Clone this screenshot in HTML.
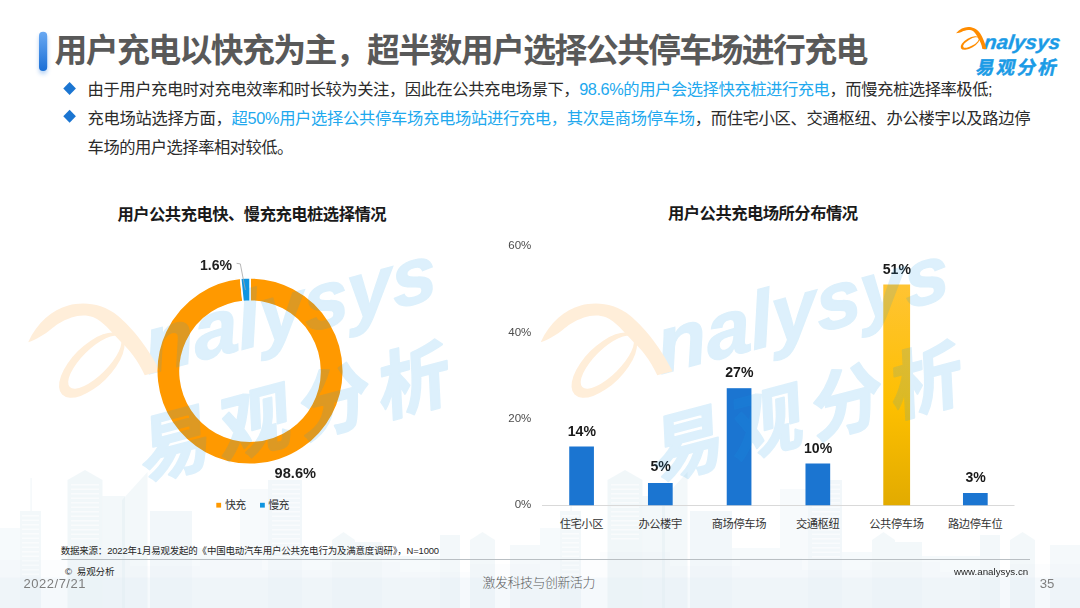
<!DOCTYPE html>
<html lang="zh-CN">
<head>
<meta charset="utf-8">
<title>用户充电以快充为主，超半数用户选择公共停车场进行充电</title>
<style>
html,body{margin:0;padding:0;background:#fff;}
body{width:1080px;height:608px;overflow:hidden;position:relative;font-family:"Liberation Sans",sans-serif;}
.slide{position:absolute;left:0;top:0;width:1080px;height:608px;overflow:hidden;background:#fff;}
svg.layer{position:absolute;left:0;top:0;width:1080px;height:608px;display:block;overflow:hidden;}
svg.layer text.run{font-family:"Liberation Sans","Noto Sans CJK SC",sans-serif;}
.t{position:absolute;white-space:nowrap;font-family:"Liberation Sans","Noto Sans CJK SC",sans-serif;font-weight:normal;margin:0;padding:0;}
.t.b{font-weight:bold;}
.t.sp5{letter-spacing:0.5px;}
.labels{position:absolute;left:0;top:0;width:1080px;height:608px;will-change:transform;}
.t.g{color:transparent;line-height:1.16;overflow:hidden;}
</style>
</head>
<body>
<div class="slide">
<svg class="layer" viewBox="0 0 1080 608" width="1080" height="608">
<defs>
<linearGradient id="gbar" x1="0" y1="0" x2="0" y2="1"><stop offset="0" stop-color="#6aa9f2"/><stop offset="1" stop-color="#1a6fd6"/></linearGradient>
<linearGradient id="ggold" x1="0" y1="0" x2="0" y2="1"><stop offset="0" stop-color="#ffc433"/><stop offset="0.55" stop-color="#fdbf00"/><stop offset="1" stop-color="#e2ab00"/></linearGradient>
<filter id="blur2" x="-100%" y="-20%" width="300%" height="140%"><feGaussianBlur stdDeviation="2"/></filter>
</defs>
<g id="skyline"><g id="tile"><polygon points="20,608 20,511 41,511 41,608" fill="#dbeaf1" opacity="0.32"/><rect x="30.6" y="478" width="0.9" height="33" fill="#dbeaf1" opacity="0.5"/><rect x="22" y="515" width="17" height="1.6" fill="#fff" opacity="0.55"/><rect x="22" y="519.5" width="17" height="1.6" fill="#fff" opacity="0.55"/><rect x="22" y="524" width="17" height="1.6" fill="#fff" opacity="0.55"/><rect x="22" y="528.5" width="17" height="1.6" fill="#fff" opacity="0.55"/><rect x="22" y="533" width="17" height="1.6" fill="#fff" opacity="0.55"/><rect x="22" y="537.5" width="17" height="1.6" fill="#fff" opacity="0.55"/><rect x="22" y="542" width="17" height="1.6" fill="#fff" opacity="0.55"/><rect x="22" y="546.5" width="17" height="1.6" fill="#fff" opacity="0.55"/><rect x="22" y="551" width="17" height="1.6" fill="#fff" opacity="0.55"/><rect x="22" y="555.5" width="17" height="1.6" fill="#fff" opacity="0.55"/><rect x="22" y="560" width="17" height="1.6" fill="#fff" opacity="0.55"/><rect x="22" y="564.5" width="17" height="1.6" fill="#fff" opacity="0.55"/><rect x="22" y="569" width="17" height="1.6" fill="#fff" opacity="0.55"/><rect x="22" y="573.5" width="17" height="1.6" fill="#fff" opacity="0.55"/><polygon points="67.5,608 67.5,480 85,470 102.5,480 102.5,608" fill="#dbeaf1" opacity="0.4"/><rect x="71" y="484" width="28" height="1.6" fill="#fff" opacity="0.55"/><rect x="71" y="488.5" width="28" height="1.6" fill="#fff" opacity="0.55"/><rect x="71" y="493" width="28" height="1.6" fill="#fff" opacity="0.55"/><rect x="71" y="497.5" width="28" height="1.6" fill="#fff" opacity="0.55"/><rect x="71" y="502" width="28" height="1.6" fill="#fff" opacity="0.55"/><rect x="71" y="506.5" width="28" height="1.6" fill="#fff" opacity="0.55"/><rect x="71" y="511" width="28" height="1.6" fill="#fff" opacity="0.55"/><rect x="71" y="515.5" width="28" height="1.6" fill="#fff" opacity="0.55"/><rect x="71" y="520" width="28" height="1.6" fill="#fff" opacity="0.55"/><rect x="71" y="524.5" width="28" height="1.6" fill="#fff" opacity="0.55"/><rect x="71" y="529" width="28" height="1.6" fill="#fff" opacity="0.55"/><rect x="71" y="533.5" width="28" height="1.6" fill="#fff" opacity="0.55"/><rect x="71" y="538" width="28" height="1.6" fill="#fff" opacity="0.55"/><polygon points="102.5,608 102.5,496 125,496 125,608" fill="#dbeaf1" opacity="0.32"/><polygon points="122,608 122,500 147.5,472 147.5,608" fill="#dbeaf1" opacity="0.32"/><polygon points="150,608 150,511 192,511 192,608" fill="#dbeaf1" opacity="0.36"/><polygon points="192,608 192,548 240,548 240,608" fill="#dbeaf1" opacity="0.24"/><polygon points="240,608 240,489 268,489 268,608" fill="#dbeaf1" opacity="0.22"/><polygon points="268,608 268,480 302,480 302,608" fill="#dbeaf1" opacity="0.36"/><rect x="272" y="484" width="28" height="1.6" fill="#fff" opacity="0.55"/><rect x="272" y="488.5" width="28" height="1.6" fill="#fff" opacity="0.55"/><rect x="272" y="493" width="28" height="1.6" fill="#fff" opacity="0.55"/><rect x="272" y="497.5" width="28" height="1.6" fill="#fff" opacity="0.55"/><rect x="272" y="502" width="28" height="1.6" fill="#fff" opacity="0.55"/><rect x="272" y="506.5" width="28" height="1.6" fill="#fff" opacity="0.55"/><rect x="272" y="511" width="28" height="1.6" fill="#fff" opacity="0.55"/><rect x="272" y="515.5" width="28" height="1.6" fill="#fff" opacity="0.55"/><rect x="272" y="520" width="28" height="1.6" fill="#fff" opacity="0.55"/><rect x="272" y="524.5" width="28" height="1.6" fill="#fff" opacity="0.55"/><rect x="272" y="529" width="28" height="1.6" fill="#fff" opacity="0.55"/><rect x="272" y="533.5" width="28" height="1.6" fill="#fff" opacity="0.55"/><rect x="272" y="538" width="28" height="1.6" fill="#fff" opacity="0.55"/><rect x="272" y="542.5" width="28" height="1.6" fill="#fff" opacity="0.55"/><rect x="272" y="547" width="28" height="1.6" fill="#fff" opacity="0.55"/><rect x="272" y="551.5" width="28" height="1.6" fill="#fff" opacity="0.55"/><rect x="272" y="556" width="28" height="1.6" fill="#fff" opacity="0.55"/><polygon points="302,608 302,552 332,552 332,608" fill="#dbeaf1" opacity="0.24"/><polygon points="332,608 332,540 343.5,532 355,540 355,608" fill="#dbeaf1" opacity="0.32"/><polygon points="355,608 355,542 382,542 382,608" fill="#dbeaf1" opacity="0.32"/><polygon points="382,608 382,556 440,556 440,608" fill="#dbeaf1" opacity="0.24"/><polygon points="440,608 440,535 460,535 460,608" fill="#dbeaf1" opacity="0.32"/><polygon points="470,608 470,540 482.5,532 495,540 495,608" fill="#dbeaf1" opacity="0.32"/><polygon points="510,608 510,545 540,545 540,608" fill="#dbeaf1" opacity="0.28"/><polygon points="0,608 0,528 20,528 20,608" fill="#dbeaf1" opacity="0.24"/><polygon points="0,608 0,560 60,560 60,608" fill="#e0ecf2" opacity="0.1"/><polygon points="60,608 60,552 130,552 130,608" fill="#e0ecf2" opacity="0.1"/><polygon points="130,608 130,566 200,566 200,608" fill="#e0ecf2" opacity="0.1"/><polygon points="200,608 200,558 262,558 262,608" fill="#e0ecf2" opacity="0.1"/><polygon points="262,608 262,570 330,570 330,608" fill="#e0ecf2" opacity="0.1"/><polygon points="330,608 330,562 400,562 400,608" fill="#e0ecf2" opacity="0.1"/><polygon points="400,608 400,572 470,572 470,608" fill="#e0ecf2" opacity="0.1"/><polygon points="470,608 470,564 540,564 540,608" fill="#e0ecf2" opacity="0.1"/></g><use href="#tile" x="540"/><rect x="0" y="577.5" width="1080" height="30.5" fill="#deedf3" opacity="0.2"/></g>
<rect x="39" y="35" width="8.2" height="39" rx="4.1" fill="#2f7fe0" opacity="0.35" filter="url(#blur2)"/>
<rect x="39" y="31.8" width="8.2" height="39.2" rx="4.1" fill="url(#gbar)"/>
<text class="run" x="54.6" y="62.39" font-size="32.865" font-weight="bold" fill="#595959" textLength="813.8" lengthAdjust="spacing">用户充电以快充为主，超半数用户选择公共停车场进行充电</text>
<path d="M69.6 82 l6.3 6.5 l-6.3 6.5 l-6.3 -6.5z" fill="#1b75d1"/>
<path d="M69.6 109.8 l6.3 6.5 l-6.3 6.5 l-6.3 -6.5z" fill="#1b75d1"/>
<text class="run" x="87.6" y="94.88" font-size="16.305" fill="#2b2b2b" textLength="905" lengthAdjust="spacing">由于用户充电时对充电效率和时长较为关注，因此在公共充电场景下，<tspan fill="#21a8ee">98.6%的用户会选择快充桩进行充电</tspan>，而慢充桩选择率极低;</text>
<text class="run" x="87.6" y="124.28" font-size="16.305" fill="#2b2b2b" textLength="943" lengthAdjust="spacing">充电场站选择方面，<tspan fill="#21a8ee">超50%用户选择公共停车场充电场站进行充电，其次是商场停车场</tspan>，而住宅小区、交通枢纽、办公楼宇以及路边停</text>
<text class="run" x="87.6" y="153.28" font-size="16.305" fill="#2b2b2b" textLength="205.8" lengthAdjust="spacing">车场的用户选择率相对较低。</text>
<text class="run" x="117.44" y="219.98" font-size="16.305" font-weight="bold" fill="#1a1a1a" textLength="269.1" lengthAdjust="spacing">用户公共充电快、慢充充电桩选择情况</text>
<text class="run" x="668.02" y="219.48" font-size="16.305" font-weight="bold" fill="#1a1a1a" textLength="190" lengthAdjust="spacing">用户公共充电场所分布情况</text>
<path d="M250.05 277.8 A93.3 93.3 0 1 1 240.69 278.27 L243.02 301.45 A70 70 0 1 0 250.05 301.1 Z" fill="#ff9900" stroke="#fff" stroke-width="1.6" stroke-linejoin="miter"/>
<path d="M240.69 278.27 A93.3 93.3 0 0 1 250.05 277.8 L250.05 301.1 A70 70 0 0 0 243.02 301.45 Z" fill="#0f95e0" stroke="#fff" stroke-width="1.6" stroke-linejoin="miter"/>
<path d="M236.6 263.3 L240.3 263.9 L245.4 290" fill="none" stroke="#a6a6a6" stroke-width="0.8"/>
<rect x="216.3" y="502.8" width="4.8" height="4.8" fill="#ff9900"/>
<rect x="260" y="502.8" width="4.8" height="4.8" fill="#0f95e0"/>
<text class="run" x="225" y="509.32" font-size="10.918" fill="#333333" textLength="21.2" lengthAdjust="spacing">快充</text>
<text class="run" x="268.2" y="509.32" font-size="10.918" fill="#333333" textLength="21.2" lengthAdjust="spacing">慢充</text>
<rect x="542" y="505" width="472.5" height="1" fill="#d9d9d9"/>
<rect x="569.23" y="446.5" width="24.7" height="58.75" fill="#1b75d1"/>
<text class="run" x="559.68" y="527.92" font-size="11.278" fill="#333333" textLength="43.8" lengthAdjust="spacing">住宅小区</text>
<rect x="647.98" y="483" width="24.7" height="22.25" fill="#1b75d1"/>
<text class="run" x="638.43" y="527.92" font-size="11.278" fill="#333333" textLength="43.8" lengthAdjust="spacing">办公楼宇</text>
<rect x="726.73" y="388.2" width="24.7" height="117.05" fill="#1b75d1"/>
<text class="run" x="711.7" y="527.92" font-size="11.278" fill="#333333" textLength="54.75" lengthAdjust="spacing">商场停车场</text>
<rect x="805.48" y="463.5" width="24.7" height="41.75" fill="#1b75d1"/>
<text class="run" x="795.93" y="527.92" font-size="11.278" fill="#333333" textLength="43.8" lengthAdjust="spacing">交通枢纽</text>
<rect x="883.28" y="284.5" width="26.8" height="220.75" fill="url(#ggold)"/>
<text class="run" x="869.2" y="527.92" font-size="11.278" fill="#333333" textLength="54.75" lengthAdjust="spacing">公共停车场</text>
<rect x="962.98" y="493" width="24.7" height="12.25" fill="#1b75d1"/>
<text class="run" x="947.95" y="527.92" font-size="11.278" fill="#333333" textLength="54.75" lengthAdjust="spacing">路边停车位</text>
<text class="run" x="60.7" y="554.2" font-size="9.445" fill="#262626" textLength="378.4" lengthAdjust="spacing">数据来源：2022年1月易观发起的《中国电动汽车用户公共充电行为及满意度调研》，N=1000</text>
<rect x="61.5" y="559" width="968.5" height="1" fill="#b9bfc3"/>
<text class="run" x="65" y="575.11" font-size="9.579" fill="#262626" xml:space="preserve" textLength="49.5" lengthAdjust="spacing">©  易观分析</text>
<text class="run" x="482.52" y="586.54" font-size="12.927" font-weight="300" fill="#5c5c5c" textLength="112.95" lengthAdjust="spacing">激发科技与创新活力</text>
<g transform="translate(956 27)"><text transform="translate(27.3 21.9) skewX(-7)" font-family="'Liberation Sans',sans-serif" font-weight="bold" font-style="italic" font-size="20" fill="#1b9be6" stroke="#1b9be6" stroke-width="0.35" textLength="76.2" lengthAdjust="spacingAndGlyphs">nalysys</text><path fill="#ff8c00" d="M0 6.3 C3.5 2 8 -0.1 12.2 -0.1 C16 -0.1 20.6 1.4 23.7 5.7 C26 9 28.6 14 30.4 21.9 L26.4 21.9 C25.6 17.5 24.2 14.5 22.6 12.0 C21.0 9 19.6 6 17.6 4.4 C16 3.2 14 2.9 12.2 3.0 C9.5 3.2 7.5 4 6.4 4.6 C4.5 5.5 2 6.2 0 6.3Z"/><path fill="#ff8c00" fill-rule="evenodd" d="M4.92 21.30 A10.60 5.00 -30.0 1 0 23.28 10.70 A10.60 5.00 -30.0 1 0 4.92 21.30 Z M7.29 19.95 A8.90 3.30 -30.0 1 0 22.71 11.05 A8.90 3.30 -30.0 1 0 7.29 19.95 Z"/><text class="run" transform="translate(19 47.3) skewX(-12)" font-size="18.4" font-weight="bold" letter-spacing="2.4" fill="#1b9be6" stroke="#1b9be6" stroke-width="0.5" stroke-linejoin="round">易观分析</text></g>
</svg>
<div class="labels">
<div class="t b" style="top:258.26px;font-size:14.1px;line-height:14.1px;color:#1f1f1f;left:200px;">1.6%</div>
<div class="t b" style="top:465.64px;font-size:14.6px;line-height:14.6px;color:#1f1f1f;left:274.6px;">98.6%</div>
<div class="t" style="top:240.37px;font-size:11.5px;line-height:11.5px;color:#4d4d4d;left:531.3px;width:200px;margin-left:-200px;text-align:right;">60%</div>
<div class="t" style="top:327.37px;font-size:11.5px;line-height:11.5px;color:#4d4d4d;left:531.3px;width:200px;margin-left:-200px;text-align:right;">40%</div>
<div class="t" style="top:412.67px;font-size:11.5px;line-height:11.5px;color:#4d4d4d;left:531.3px;width:200px;margin-left:-200px;text-align:right;">20%</div>
<div class="t" style="top:499.47px;font-size:11.5px;line-height:11.5px;color:#4d4d4d;left:531.3px;width:200px;margin-left:-200px;text-align:right;">0%</div>
<div class="t b" style="top:424.36px;font-size:14.1px;line-height:14.1px;color:#1a1a1a;left:581.88px;width:200px;margin-left:-100px;text-align:center;">14%</div>
<div class="t b" style="top:459.36px;font-size:14.1px;line-height:14.1px;color:#1a1a1a;left:660.62px;width:200px;margin-left:-100px;text-align:center;">5%</div>
<div class="t b" style="top:365.41px;font-size:14.1px;line-height:14.1px;color:#1a1a1a;left:739.38px;width:200px;margin-left:-100px;text-align:center;">27%</div>
<div class="t b" style="top:440.61px;font-size:14.1px;line-height:14.1px;color:#1a1a1a;left:818.12px;width:200px;margin-left:-100px;text-align:center;">10%</div>
<div class="t b" style="top:262.11px;font-size:14.1px;line-height:14.1px;color:#1a1a1a;left:896.88px;width:200px;margin-left:-100px;text-align:center;">51%</div>
<div class="t b" style="top:470.11px;font-size:14.1px;line-height:14.1px;color:#1a1a1a;left:975.62px;width:200px;margin-left:-100px;text-align:center;">3%</div>
<div class="t sp5" style="top:576.7px;font-size:13px;line-height:13px;color:#7d7d7d;left:23.6px;">2022/7/21</div>
<div class="t" style="top:567.15px;font-size:9.75px;line-height:9.75px;color:#262626;left:1028.2px;width:200px;margin-left:-200px;text-align:right;">www.analysys.cn</div>
<div class="t" style="top:577.43px;font-size:13.2px;line-height:13.2px;color:#808080;left:1054.4px;width:200px;margin-left:-200px;text-align:right;">35</div>
</div>
<div class="textlayer">
<h1 class="t g b" style="left:54.6px;top:34.26px;font-size:31.3px;width:817.8px">用户充电以快充为主，超半数用户选择公共停车场进行充电</h1>
<p class="t g" style="left:87.6px;top:80.77px;font-size:15.83px;width:908.56px">由于用户充电时对充电效率和时长较为关注，因此在公共充电场景下，98.6%的用户会选择快充桩进行充电，而慢充桩选择率极低;</p>
<p class="t g" style="left:87.6px;top:110.17px;font-size:15.83px;width:947.28px">充电场站选择方面，超50%用户选择公共停车场充电场站进行充电，其次是商场停车场，而住宅小区、交通枢纽、办公楼宇以及路边停</p>
<p class="t g" style="left:87.6px;top:139.17px;font-size:15.83px;width:209.79px">车场的用户选择率相对较低。</p>
<h2 class="t g b" style="left:117.44px;top:205.87px;font-size:15.83px;width:273.11px">用户公共充电快、慢充充电桩选择情况</h2>
<h2 class="t g b" style="left:668.02px;top:205.37px;font-size:15.83px;width:193.96px">用户公共充电场所分布情况</h2>
<div class="t g" style="left:225px;top:499.87px;font-size:10.6px;width:25.2px">快充</div>
<div class="t g" style="left:268.2px;top:499.87px;font-size:10.6px;width:25.2px">慢充</div>
<div class="t g" style="left:559.68px;top:518.16px;font-size:10.95px;width:47.8px">住宅小区</div>
<div class="t g" style="left:638.43px;top:518.16px;font-size:10.95px;width:47.8px">办公楼宇</div>
<div class="t g" style="left:711.7px;top:518.16px;font-size:10.95px;width:58.75px">商场停车场</div>
<div class="t g" style="left:795.93px;top:518.16px;font-size:10.95px;width:47.8px">交通枢纽</div>
<div class="t g" style="left:869.2px;top:518.16px;font-size:10.95px;width:58.75px">公共停车场</div>
<div class="t g" style="left:947.95px;top:518.16px;font-size:10.95px;width:58.75px">路边停车位</div>
<div class="t g" style="left:60.7px;top:546.03px;font-size:9.17px;width:382.47px">数据来源：2022年1月易观发起的《中国电动汽车用户公共充电行为及满意度调研》，N=1000</div>
<div class="t g" style="left:65px;top:566.82px;font-size:9.3px;width:53.59px">©  易观分析</div>
<div class="t g" style="left:482.52px;top:575.36px;font-size:12.55px;width:116.95px">激发科技与创新活力</div>
<div class="t g b" style="left:977px;top:58px;font-size:17.6px;letter-spacing:2.4px;font-style:italic">易观分析</div>
</div>
<svg class="layer" viewBox="0 0 1080 608" width="1080" height="608" style="pointer-events:none" aria-hidden="true">
<g opacity="0.15"><g transform="translate(28.2 342.3) rotate(-14.8) scale(3.95) translate(0 -6.3)"><text transform="translate(27.3 21.9) skewX(-7)" font-family="'Liberation Sans',sans-serif" font-weight="bold" font-style="italic" font-size="20" fill="#1b9be6" stroke="#1b9be6" stroke-width="0.35" textLength="76.2" lengthAdjust="spacingAndGlyphs">nalysys</text><path fill="#ff8c00" d="M0 6.3 C3.5 2 8 -0.1 12.2 -0.1 C16 -0.1 20.6 1.4 23.7 5.7 C26 9 28.6 14 30.4 21.9 L26.4 21.9 C25.6 17.5 24.2 14.5 22.6 12.0 C21.0 9 19.6 6 17.6 4.4 C16 3.2 14 2.9 12.2 3.0 C9.5 3.2 7.5 4 6.4 4.6 C4.5 5.5 2 6.2 0 6.3Z"/><path fill="#ff8c00" fill-rule="evenodd" d="M4.92 21.30 A10.60 5.00 -30.0 1 0 23.28 10.70 A10.60 5.00 -30.0 1 0 4.92 21.30 Z M7.29 19.95 A8.90 3.30 -30.0 1 0 22.71 11.05 A8.90 3.30 -30.0 1 0 7.29 19.95 Z"/><text class="run" transform="translate(19 47.3) skewX(-12)" font-size="18.4" font-weight="bold" letter-spacing="2.4" fill="#1b9be6" stroke="#1b9be6" stroke-width="0.5" stroke-linejoin="round">易观分析</text></g><g transform="translate(540.7 342.3) rotate(-14.8) scale(3.95) translate(0 -6.3)"><text transform="translate(27.3 21.9) skewX(-7)" font-family="'Liberation Sans',sans-serif" font-weight="bold" font-style="italic" font-size="20" fill="#1b9be6" stroke="#1b9be6" stroke-width="0.35" textLength="76.2" lengthAdjust="spacingAndGlyphs">nalysys</text><path fill="#ff8c00" d="M0 6.3 C3.5 2 8 -0.1 12.2 -0.1 C16 -0.1 20.6 1.4 23.7 5.7 C26 9 28.6 14 30.4 21.9 L26.4 21.9 C25.6 17.5 24.2 14.5 22.6 12.0 C21.0 9 19.6 6 17.6 4.4 C16 3.2 14 2.9 12.2 3.0 C9.5 3.2 7.5 4 6.4 4.6 C4.5 5.5 2 6.2 0 6.3Z"/><path fill="#ff8c00" fill-rule="evenodd" d="M4.92 21.30 A10.60 5.00 -30.0 1 0 23.28 10.70 A10.60 5.00 -30.0 1 0 4.92 21.30 Z M7.29 19.95 A8.90 3.30 -30.0 1 0 22.71 11.05 A8.90 3.30 -30.0 1 0 7.29 19.95 Z"/><text class="run" transform="translate(19 47.3) skewX(-12)" font-size="18.4" font-weight="bold" letter-spacing="2.4" fill="#1b9be6" stroke="#1b9be6" stroke-width="0.5" stroke-linejoin="round">易观分析</text></g></g>
</svg>
</div>
</body>
</html>
